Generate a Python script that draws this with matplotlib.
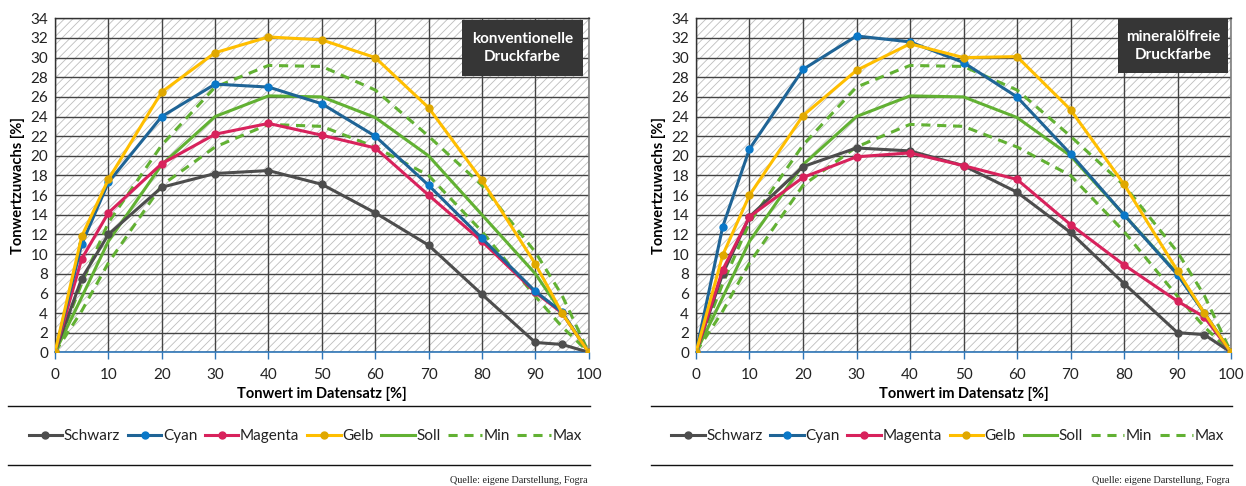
import matplotlib
matplotlib.use("Agg")
import matplotlib.pyplot as plt
from matplotlib.patches import Rectangle
from matplotlib.lines import Line2D

plt.rcParams['font.family'] = ['Lato', 'DejaVu Sans']

# ---------------- data ----------------
tonwert = [0, 5, 10, 20, 30, 40, 50, 60, 70, 80, 90, 95, 100]

schwarz_konv = [0, 7.5, 12.0, 16.8, 18.2, 18.5, 17.1, 14.2, 10.9, 5.9, 1.0, 0.8, 0]
cyan_konv = [0, 11.0, 17.3, 24.0, 27.3, 27.0, 25.3, 22.0, 17.0, 11.6, 6.2, 4.1, 0]
magenta_konv = [0, 9.5, 14.2, 19.2, 22.2, 23.3, 22.1, 20.8, 16.0, 11.3, 6.1, 4.0, 0]
gelb_konv = [0, 11.8, 17.6, 26.5, 30.5, 32.1, 31.8, 30.0, 24.9, 17.5, 9.0, 4.0, 0]

schwarz_min = [0, 8.0, 13.8, 18.9, 20.8, 20.5, 19.0, 16.3, 12.2, 7.0, 2.0, 1.8, 0]
cyan_min = [0, 12.8, 20.7, 28.8, 32.2, 31.6, 29.5, 26.0, 20.2, 14.0, 7.9, 4.0, 0]
magenta_min = [0, 8.4, 13.8, 17.8, 19.9, 20.3, 19.0, 17.6, 13.0, 8.9, 5.2, 3.6, 0]
gelb_min = [0, 9.9, 16.0, 24.1, 28.7, 31.4, 30.0, 30.1, 24.7, 17.1, 8.3, 4.0, 0]

soll = [0, 5.6, 11.3, 19.1, 24.0, 26.1, 26.0, 23.9, 20.0, 14.0, 8.0, 4.0, 0]
toleranz_max = [0, 7.0, 13.2, 21.1, 27.0, 29.2, 29.1, 26.7, 22.0, 17.0, 10.2, 5.8, 0]
toleranz_min = [0, 4.2, 9.1, 17.0, 20.9, 23.2, 23.0, 20.9, 18.0, 12.3, 5.7, 2.6, 0]

titles = ["konventionelle\nDruckfarbe", "mineralölfreie\nDruckfarbe"]
legend_labels = ["Schwarz", "Cyan", "Magenta", "Gelb", "Soll", "Min", "Max"]
x_ticks = [0, 10, 20, 30, 40, 50, 60, 70, 80, 90, 100]
y_ticks = list(range(0, 35, 2))

# ---------------- styles ----------------
W, H = 1246, 486
fig = plt.figure(figsize=(W / 100, H / 100), dpi=100)

c_schwarz, m_schwarz = '#4d4d4d', '#4d4d4d'
c_cyan, m_cyan = '#1f6496', '#0a78c8'
c_mag, m_mag = '#d8225c', '#d8225c'
c_gelb, m_gelb = '#ffbe00', '#e0a800'
c_green = '#62b133'

plt.rcParams['hatch.linewidth'] = 0.6

def px_ax(x0, x1):
    y_top, y_bot = 18.3, 352.3
    return [x0 / W, 1 - y_bot / H, (x1 - x0) / W, (y_bot - y_top) / H]

panels = [
    (px_ax(55, 588.7), (schwarz_konv, cyan_konv, magenta_konv, gelb_konv), titles[0],
     (462, 583, 20, 76), 8, 590),
    (px_ax(696, 1231), (schwarz_min, cyan_min, magenta_min, gelb_min), titles[1],
     (1118, 1228, 18.5, 73.5), 651, 1232),
]

lw = 2.2
ms = 5

for rect, series, title, box, lx0, lx1 in panels:
    ax = fig.add_axes(rect)
    ax.set_xlim(0, 100)
    ax.set_ylim(0, 34)
    bg = Rectangle((0, 0), 1, 1, transform=ax.transAxes, facecolor='white',
                   edgecolor='#bdbdbd', hatch='////', linewidth=0, zorder=0)
    ax.add_patch(bg)
    ax.set_facecolor('white')
    ax.set_xticks(x_ticks)
    ax.set_yticks(y_ticks)
    ax.grid(True, color='#444444', linewidth=1.0, zorder=1)
    ax.set_axisbelow(True)
    for s in ['top', 'left']:
        ax.spines[s].set_color('#333333')
        ax.spines[s].set_linewidth(1.0)
    ax.spines['right'].set_color('#7f7f7f')
    ax.spines['right'].set_linewidth(1.2)
    ax.spines['bottom'].set_color('#2e75b6')
    ax.spines['bottom'].set_linewidth(1.2)
    ax.tick_params(axis='x', colors='#2e75b6', length=5, width=1, direction='out',
                   labelcolor='#222222', labelsize=11, pad=6)
    ax.tick_params(axis='y', length=0, labelcolor='#222222', labelsize=11, pad=5)
    ax.set_xlabel("Tonwert im Datensatz [%]", fontsize=10.5, fontweight='bold',
                  labelpad=4)
    ax.set_ylabel("Tonwertzuwachs [%]", fontsize=10.5, fontweight='bold', labelpad=4)

    s, c, m, g = series
    ax.plot(tonwert, toleranz_max, color=c_green, lw=lw, ls=(0, (3, 2.2)), zorder=3)
    ax.plot(tonwert, toleranz_min, color=c_green, lw=lw, ls=(0, (3, 2.2)), zorder=3)
    ax.plot(tonwert, soll, color=c_green, lw=lw, zorder=3)
    ax.plot(tonwert, s, color=c_schwarz, lw=lw, marker='o', ms=ms, mfc=m_schwarz,
            mec=m_schwarz, zorder=4)
    ax.plot(tonwert, m, color=c_mag, lw=lw, marker='o', ms=ms, mfc=m_mag,
            mec=m_mag, zorder=4)
    ax.plot(tonwert, c, color=c_cyan, lw=lw, marker='o', ms=ms, mfc=m_cyan,
            mec=m_cyan, zorder=5)
    ax.plot(tonwert, g, color=c_gelb, lw=lw, marker='o', ms=ms, mfc=m_gelb,
            mec=m_gelb, zorder=5)

    # title box
    bx0, bx1, by0, by1 = box
    fig.patches.append(Rectangle((bx0 / W, 1 - by1 / H), (bx1 - bx0) / W, (by1 - by0) / H,
                                 transform=fig.transFigure, facecolor='#363636',
                                 edgecolor='none', zorder=10))
    fig.text((bx0 + bx1) / 2 / W, 1 - (by0 + by1) / 2 / H, title, color='white',
             fontsize=11, fontweight='bold', ha='center', va='center',
             linespacing=1.45, zorder=11)

    # separator lines
    for yy in (406, 465):
        fig.add_artist(Line2D([lx0 / W, lx1 / W], [1 - yy / H, 1 - yy / H],
                              color='#111111', lw=1.0, transform=fig.transFigure))

    # legend
    handles = [
        Line2D([], [], color=c_schwarz, lw=lw, marker='o', ms=ms, mfc=m_schwarz, mec=m_schwarz),
        Line2D([], [], color=c_cyan, lw=lw, marker='o', ms=ms, mfc=m_cyan, mec=m_cyan),
        Line2D([], [], color=c_mag, lw=lw, marker='o', ms=ms, mfc=m_mag, mec=m_mag),
        Line2D([], [], color=c_gelb, lw=lw, marker='o', ms=ms, mfc=m_gelb, mec=m_gelb),
        Line2D([], [], color=c_green, lw=lw),
        Line2D([], [], color=c_green, lw=lw, ls=(0, (3, 2.2))),
        Line2D([], [], color=c_green, lw=lw, ls=(0, (3, 2.2))),
    ]
    fig.legend(handles, legend_labels, loc='center',
               bbox_to_anchor=((lx0 + lx1) / 2 / W + 0.005, 1 - 436 / H), ncol=7,
               frameon=False, fontsize=11, handlelength=2.2, handletextpad=0.1,
               columnspacing=0.5, borderaxespad=0, borderpad=0,
               labelcolor='#222222')

    fig.text(lx1 / W - 0.002, 1 - 480 / H, "Quelle: eigene Darstellung, Fogra",
             fontsize=7.3, family='Liberation Serif', ha='right', va='center',
             color='#222222')

fig.savefig("out.png", dpi=100)
